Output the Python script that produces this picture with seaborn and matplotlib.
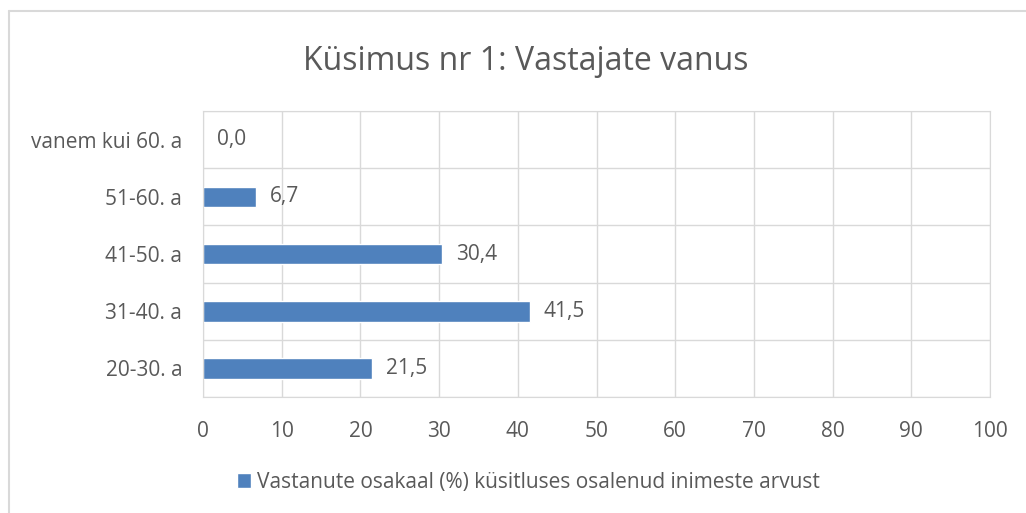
import pandas as pd
import matplotlib.pyplot as plt
import seaborn as sns
from matplotlib.lines import Line2D
from matplotlib.patches import Patch

categories = ["vanem kui 60. a", "51-60. a", "41-50. a", "31-40. a", "20-30. a"]
values = [0.0, 6.7, 30.4, 41.5, 21.5]
x_ticks = list(range(0, 101, 10))
series_name = "Vastanute osakaal (%) küsitluses osalenud inimeste arvust"
title = "Küsimus nr 1: Vastajate vanus"

df = pd.DataFrame({"vanus": categories, "osakaal": values})

sns.set_style("white")
plt.rcParams['font.family'] = ['Open Sans', 'DejaVu Sans']

text_col = "#595959"
grid_col = "#D9D9D9"
bar_col = "#4F81BD"

fig = plt.figure(figsize=(10.26, 5.13), dpi=100)
ax = fig.add_axes([0.1979, 0.2261, 0.7670, 0.5575])

sns.barplot(data=df, x="osakaal", y="vanus", orient="h", color=bar_col,
            width=0.36, saturation=1, ax=ax)

labels = [f"{v:.1f}".replace(".", ",") for v in values]
ax.bar_label(ax.containers[0], labels=labels, padding=10, fontsize=15, color=text_col)

ax.set_xlim(0, 100)
ax.set_ylim(len(categories) - 0.5, -0.5)
ax.set_xticks(x_ticks)
ax.set_xticklabels([str(t) for t in x_ticks])
ax.set_yticks(range(len(categories)), minor=False)
ax.set_yticks([i + 0.5 for i in range(-1, len(categories))], minor=True)
ax.tick_params(axis="both", which="both", length=0, labelsize=15, colors=text_col)
ax.tick_params(axis="x", pad=17)
ax.tick_params(axis="y", pad=15)
ax.grid(axis="x", which="major", color=grid_col, linewidth=1)
ax.grid(axis="y", which="minor", color=grid_col, linewidth=1)
ax.set_axisbelow(True)
for s in ax.spines.values():
    s.set_color(grid_col)
ax.set_xlabel("")
ax.set_ylabel("")

fig.text(0.512, 0.88, title, ha="center", va="center", fontsize=23, color=text_col)

fig.legend(handles=[Patch(facecolor=bar_col, label=series_name)],
           loc="center", bbox_to_anchor=(0.515, 0.06), frameon=False,
           fontsize=15, labelcolor=text_col, handlelength=0.7, handleheight=0.7,
           handletextpad=0.3)

# chart frame (top and left edges visible)
fig.add_artist(Line2D([9 / 1026, 1.0], [1 - 11 / 513] * 2, color=grid_col, linewidth=1.5))
fig.add_artist(Line2D([9 / 1026] * 2, [0.0, 1 - 11 / 513], color=grid_col, linewidth=1.5))

fig.savefig("out.png", dpi=100, facecolor="white")
